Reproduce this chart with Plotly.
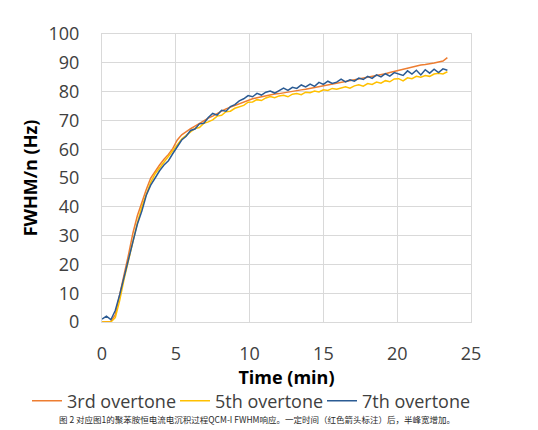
import plotly.graph_objects as go

time_min = [0, 0.3, 0.6, 0.9, 1.2, 1.5, 1.8, 2.1, 2.4, 2.7, 3.0, 3.3, 3.6, 3.9, 4.2, 4.5, 4.8, 5.1, 5.4, 5.7,
            6.0, 6.3, 6.6, 6.9, 7.2, 7.5, 7.8, 8.1, 8.4, 8.7, 9.0, 9.3, 9.6, 9.9, 10.2, 10.5, 10.8, 11.1, 11.4, 11.7,
            12.0, 12.3, 12.6, 12.9, 13.2, 13.5, 13.8, 14.1, 14.4, 14.7, 15.0, 15.3, 15.6, 15.9, 16.2, 16.5, 16.8, 17.1, 17.4, 17.7,
            18.0, 18.3, 18.6, 18.9, 19.2, 19.5, 19.8, 20.1, 20.4, 20.7, 21.0, 21.3, 21.6, 21.9, 22.2, 22.5, 22.8, 23.1, 23.4]

third = [0, 0, 0.2, 2.5, 9, 16.5, 23.5, 31, 37, 41.8, 46, 50, 52.5, 54.5, 56.5, 58.2, 60.3, 63.2, 65, 66.2,
         67.1, 68, 69, 70, 70.8, 71.5, 72.5, 73.2, 74, 74.6, 75.2, 75.8, 76.4, 77, 77.5, 77.9, 78.2, 78.6, 79, 79.2,
         79.3, 79.6, 79.8, 80.1, 80.4, 80.6, 80.8, 81.1, 81.4, 81.5, 81.8, 82.1, 82.4, 82.8, 83.1, 83.4, 83.6, 84, 84.4, 84.6,
         84.9, 85.2, 85.6, 85.9, 86.2, 86.6, 87, 87.4, 87.8, 88.1, 88.5, 88.9, 89.2, 89.4, 89.6, 89.9, 90.3, 90.6, 91.8]

fifth = [0, 0, 0, 1.5, 7.5, 15, 21.5, 28.5, 34.5, 40, 44.5, 48.5, 51.5, 53.5, 55.5, 57.5, 59.5, 61.5, 63.5, 64.8,
         66, 67.2, 67.5, 69, 69.5, 70.2, 71.5, 71.8, 73, 73.2, 74.2, 74.8, 75.2, 76.3, 76.4, 77.2, 76.9, 77.8, 78.3, 77.9,
         78.5, 78.7, 78.2, 79.1, 79.3, 78.9, 79.8, 79.6, 80.2, 79.9, 80.6, 80.4, 81.1, 80.8, 81.3, 81.7, 81.2, 82, 82.4, 81.9,
         82.8, 82.5, 83.3, 82.9, 83.8, 83.4, 84.4, 84.5, 83.7, 84.8, 84.5, 85.3, 85, 85.6, 85.3, 86.1, 86.4, 86.1, 86.9]

seventh = [1.0, 2.0, 0.8, 4, 9.5, 16, 22, 28, 34, 38.5, 44, 47.5, 50, 52.5, 54.5, 56, 58.5, 61, 63.2, 64.5,
           66.5, 67, 68.8, 69, 71, 72.4, 71.8, 73.5, 73.2, 74.8, 75.5, 76.8, 77.5, 78.6, 78.2, 79.4, 78.8, 79.8, 80.2, 79.5,
           80.3, 81.2, 80.4, 81.5, 81.1, 82.3, 81.6, 82.6, 81.8, 83.2, 82.5, 83.6, 82.8, 83.3, 84.3, 83.4, 84.1, 83.6, 84.7, 84.2,
           85.3, 84.6, 85.8, 85.1, 86.2, 85.4, 86.6, 86.2, 85.6, 87.2, 86.1, 87.4, 85.8, 87.6, 86.4, 87.8, 86.6, 87.9, 87.4]

series_names = ["3rd overtone", "5th overtone", "7th overtone"]
series_colors = ["#ED7D31", "#FFC000", "#2B5B93"]
series_values = [third, fifth, seventh]

x_ticks = [0, 5, 10, 15, 20, 25]
y_ticks = [0, 10, 20, 30, 40, 50, 60, 70, 80, 90, 100]

caption = "图 2 对应图1的聚苯胺恒电流电沉积过程QCM-I FWHM响应。一定时间（红色箭头标注）后，半峰宽增加。"

W, H = 538, 430
ML, MR, MT, MB = 102, 67, 34, 107
PW, PH = W - ML - MR, H - MT - MB

def px_to_paper_x(px):
    return (px - ML) / PW

def px_to_paper_y(py):
    return (H - MB - py) / PH

legend_ids = ["legend", "legend2", "legend3"]
legend_px = [27, 175, 322]

fig = go.Figure()
for name, color, vals, lid in zip(series_names, series_colors, series_values, legend_ids):
    fig.add_trace(go.Scatter(x=time_min, y=vals, mode="lines", name=name, legend=lid,
                             line=dict(color=color, width=1.5)))

font_fam = "Open Sans"
grid_c = "#d9d9d9"

legend_common = dict(orientation="h", xanchor="left", yanchor="middle", y=px_to_paper_y(401),
                     font=dict(size=18, color="#404040", family=font_fam),
                     itemwidth=30, bgcolor="rgba(0,0,0,0)")

fig.update_layout(
    width=W, height=H,
    margin=dict(l=ML, r=MR, t=MT, b=MB),
    paper_bgcolor="white", plot_bgcolor="white",
    font=dict(family=font_fam, color="#404040"),
    showlegend=True,
    legend=dict(legend_common, x=px_to_paper_x(legend_px[0])),
    legend2=dict(legend_common, x=px_to_paper_x(legend_px[1])),
    legend3=dict(legend_common, x=px_to_paper_x(legend_px[2])),
    xaxis=dict(range=[0, 25], tickvals=x_ticks, showgrid=True, gridcolor=grid_c, gridwidth=1,
               zeroline=False, showline=True, linecolor=grid_c, mirror=True,
               ticks="outside", ticklen=15, tickcolor="rgba(0,0,0,0)",
               tickfont=dict(size=18, color="#404040"),
               title=dict(text="<b>Time (min)</b>", font=dict(size=18, color="#000000"), standoff=5)),
    yaxis=dict(range=[0, 100], tickvals=y_ticks, showgrid=True, gridcolor=grid_c, gridwidth=1,
               zeroline=False, showline=True, linecolor=grid_c, mirror=True,
               ticks="outside", ticklen=18, tickcolor="rgba(0,0,0,0)",
               tickfont=dict(size=18, color="#404040"),
               title=dict(text="<b>FWHM/n (Hz)</b>", font=dict(size=18, color="#000000"), standoff=6)),
)

fig.add_annotation(text=caption, xref="paper", yref="paper", x=px_to_paper_x(57), y=px_to_paper_y(420),
                   xanchor="left", yanchor="middle", showarrow=False,
                   font=dict(family="Noto Sans CJK SC", size=8.5, color="#2a2a2a"))

fig.write_html("out.html")
